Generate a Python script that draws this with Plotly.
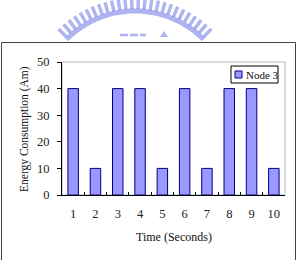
import math
import plotly.graph_objects as go

# ---- data ----
times = ["1", "2", "3", "4", "5", "6", "7", "8", "9", "10"]
energy = [40, 10, 40, 40, 10, 40, 10, 40, 40, 10]
series_name = "Node 3"
y_ticks = [0, 10, 20, 30, 40, 50]

W, H = 298, 260
SERIF = "Liberation Serif, Times New Roman, serif"


def px(x):
    return x / W


def py(y):
    return 1 - y / H


L, R, T, B = 62, 285, 62, 195

fig = go.Figure()
fig.add_trace(go.Bar(
    x=times, y=energy, name=series_name, showlegend=False,
    marker=dict(color="#9999FF", line=dict(color="#000080", width=1)),
))

shapes = []
# outer frame
shapes.append(dict(type="rect", xref="paper", yref="paper",
                   x0=px(1.5), x1=px(295.5), y0=py(262), y1=py(42.5),
                   line=dict(color="#444444", width=1), layer="below"))
# plot area border (grey top/right)
shapes.append(dict(type="rect", xref="paper", yref="paper",
                   x0=px(L), x1=px(R), y0=py(B), y1=py(T),
                   line=dict(color="#b8b8b8", width=1), layer="below"))

# watermark logo (decorative)
cx, cy = 135, 108
logo_col = "rgba(120,128,232,0.6)"
n_teeth = 26
a0, a1 = 46, 134
for i in range(n_teeth):
    a = math.radians(a0 + (a1 - a0) * i / (n_teeth - 1))
    r0, r1 = 99, 110
    shapes.append(dict(type="line", xref="paper", yref="paper",
                       x0=px(cx + r0 * math.cos(a)), y0=py(cy - r0 * math.sin(a)),
                       x1=px(cx + r1 * math.cos(a)), y1=py(cy - r1 * math.sin(a)),
                       line=dict(color=logo_col, width=3.4)))
pts = []
for k in range(41):
    a = math.radians(a0 - 1 + (a1 - a0 + 2) * k / 40)
    pts.append((cx + 97 * math.cos(a), cy - 97 * math.sin(a)))
path = "M " + " L ".join(f"{px(x):.5f},{py(y):.5f}" for x, y in pts)
shapes.append(dict(type="path", xref="paper", yref="paper", path=path,
                   line=dict(color=logo_col, width=5)))
for x0, x1 in [(120, 128), (130, 138), (140, 146)]:
    shapes.append(dict(type="line", xref="paper", yref="paper",
                       x0=px(x0), x1=px(x1), y0=py(35), y1=py(35),
                       line=dict(color=logo_col, width=2.5)))
shapes.append(dict(type="path", xref="paper", yref="paper",
                   path=f"M {px(160)},{py(37)} L {px(164)},{py(31)} L {px(168)},{py(37)} Z",
                   fillcolor=logo_col, line=dict(width=0)))

# manual legend
shapes.append(dict(type="rect", xref="paper", yref="paper",
                   x0=px(231), x1=px(278), y0=py(83), y1=py(66),
                   line=dict(color="#000000", width=1), fillcolor="white"))
shapes.append(dict(type="rect", xref="paper", yref="paper",
                   x0=px(235), x1=px(242), y0=py(78), y1=py(71),
                   line=dict(color="#000080", width=1), fillcolor="#9999FF"))

annotations = [
    dict(text=series_name, xref="paper", yref="paper", x=px(243.5), y=py(74.5),
         xanchor="left", yanchor="middle", showarrow=False,
         font=dict(family=SERIF, size=11, color="#111111")),
    dict(text="Time (Seconds)", xref="paper", yref="paper", x=px(173.5), y=py(237),
         xanchor="center", yanchor="middle", showarrow=False,
         font=dict(family=SERIF, size=12, color="#111111")),
    dict(text="Energy Consumption (Am)", xref="paper", yref="paper", x=px(24), y=py(129),
         xanchor="center", yanchor="middle", showarrow=False, textangle=-90,
         font=dict(family=SERIF, size=11.5, color="#111111")),
]

fig.update_layout(
    width=W, height=H,
    margin=dict(l=0, r=0, t=0, b=0),
    paper_bgcolor="white", plot_bgcolor="white",
    bargap=0.53,
    showlegend=False,
    shapes=shapes,
    annotations=annotations,
    xaxis=dict(domain=[px(L), px(R)], type="category",
               showline=True, linecolor="black", linewidth=1,
               ticks="inside", tickson="boundaries", ticklen=3, tickcolor="black",
               showgrid=False, automargin=False, ticklabelstandoff=7,
               tickfont=dict(family=SERIF, size=12.5, color="#222222")),
    yaxis=dict(domain=[py(B), py(T)], range=[0, 50], tickvals=y_ticks,
               showline=True, linecolor="black", linewidth=1,
               ticks="outside", ticklen=4, tickcolor="black",
               showgrid=False, zeroline=False, automargin=False, ticklabelstandoff=5,
               tickfont=dict(family=SERIF, size=12.5, color="#222222")),
)

fig.write_html("out.html")
